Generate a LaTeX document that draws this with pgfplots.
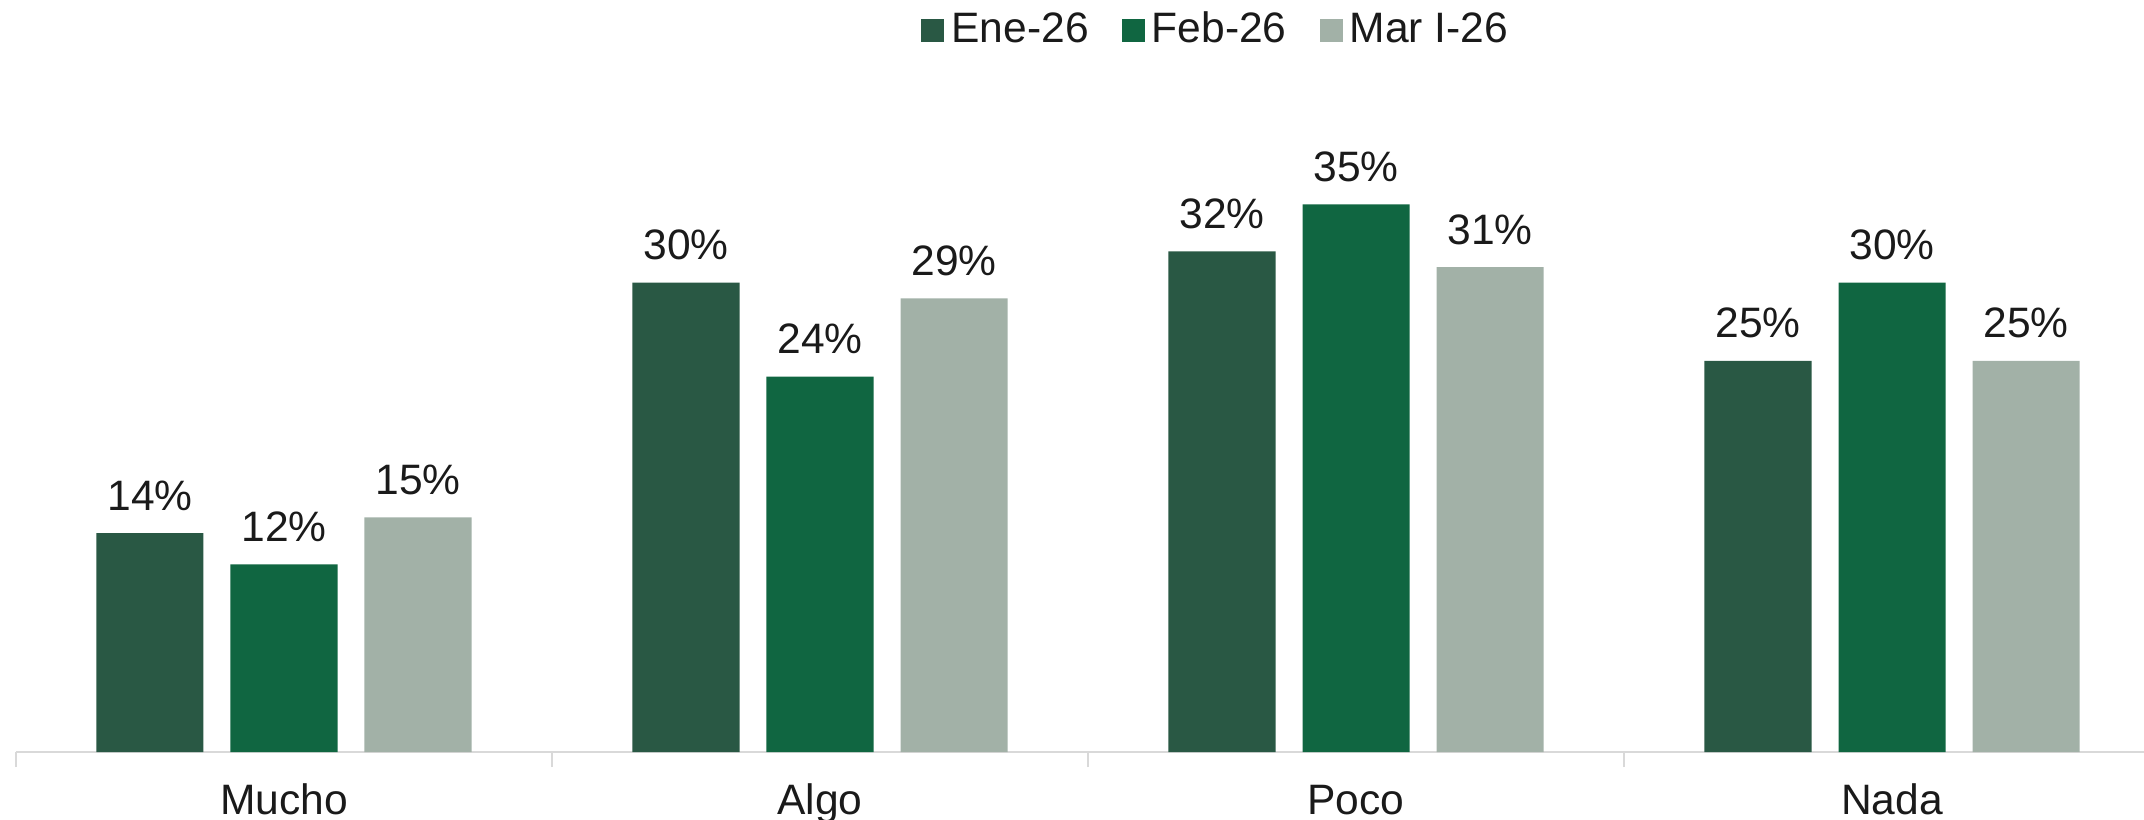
\documentclass[border=0pt]{standalone}
\usepackage{fontspec}
\setmainfont{Liberation Sans}
\usepackage{pgfplots}
\pgfplotsset{compat=1.18}
\definecolor{ene}{RGB}{41,88,68}
\definecolor{feb}{RGB}{16,102,65}
\definecolor{mar}{RGB}{162,177,167}
\definecolor{axisgray}{RGB}{217,217,217}
\definecolor{txt}{RGB}{26,26,26}
\begin{document}
\fontsize{12pt}{14pt}\selectfont
\begin{tikzpicture}
\useasboundingbox (0,0) rectangle (604.6pt,231.0pt);
\begin{axis}[
  at={(4.5pt,18.9pt)}, anchor=south west,
  scale only axis, width=600.1pt, height=211.8pt,
  xmin=-0.5, xmax=3.47, ymin=0, ymax=48,
  ybar=7.6pt, bar width=30.2pt,
  axis x line=bottom, axis y line=none,
  axis line style={draw=axisgray, line width=0.6pt, -},
  xtick={0,1,2,3},
  xticklabels={Mucho,Algo,Poco,Nada},
  major tick length=0pt,
  xticklabel style={anchor=base, yshift=-17.6pt, text=txt, font=\fontsize{12pt}{14pt}\selectfont},
  extra x ticks={-0.5,0.5,1.5,2.5},
  extra x tick labels={},
  extra x tick style={major tick length=4.2pt, xtick align=outside,
    tick style={draw=axisgray, line width=0.6pt}},
  ytick=\empty,
  clip=false,
  /pgf/number format/assume math mode=true,
  nodes near coords={\pgfmathprintnumber{\pgfplotspointmeta}\%},
  every node near coord/.append style={anchor=base, yshift=6.5pt, inner sep=0pt,
    text=txt, font=\fontsize{12pt}{14pt}\selectfont},
  legend columns=3,
  legend style={draw=none, fill=none, at={(0.565,0.961)}, anchor=center,
    font=\fontsize{12pt}{14pt}\selectfont, text=txt,
    /tikz/every even column/.append style={column sep=7.3pt},
    inner sep=0pt, row sep=0pt},
  legend image code/.code={\fill[#1, draw=none] (0pt,-3.25pt) rectangle (6.5pt,3.25pt);},
]
\addplot[fill=ene, draw=none] coordinates {(0,14) (1,30) (2,32) (3,25)};
\addplot[fill=feb, draw=none] coordinates {(0,12) (1,24) (2,35) (3,30)};
\addplot[fill=mar, draw=none] coordinates {(0,15) (1,29) (2,31) (3,25)};
\legend{Ene-26,Feb-26,Mar I-26}
\end{axis}
\end{tikzpicture}
\end{document}
